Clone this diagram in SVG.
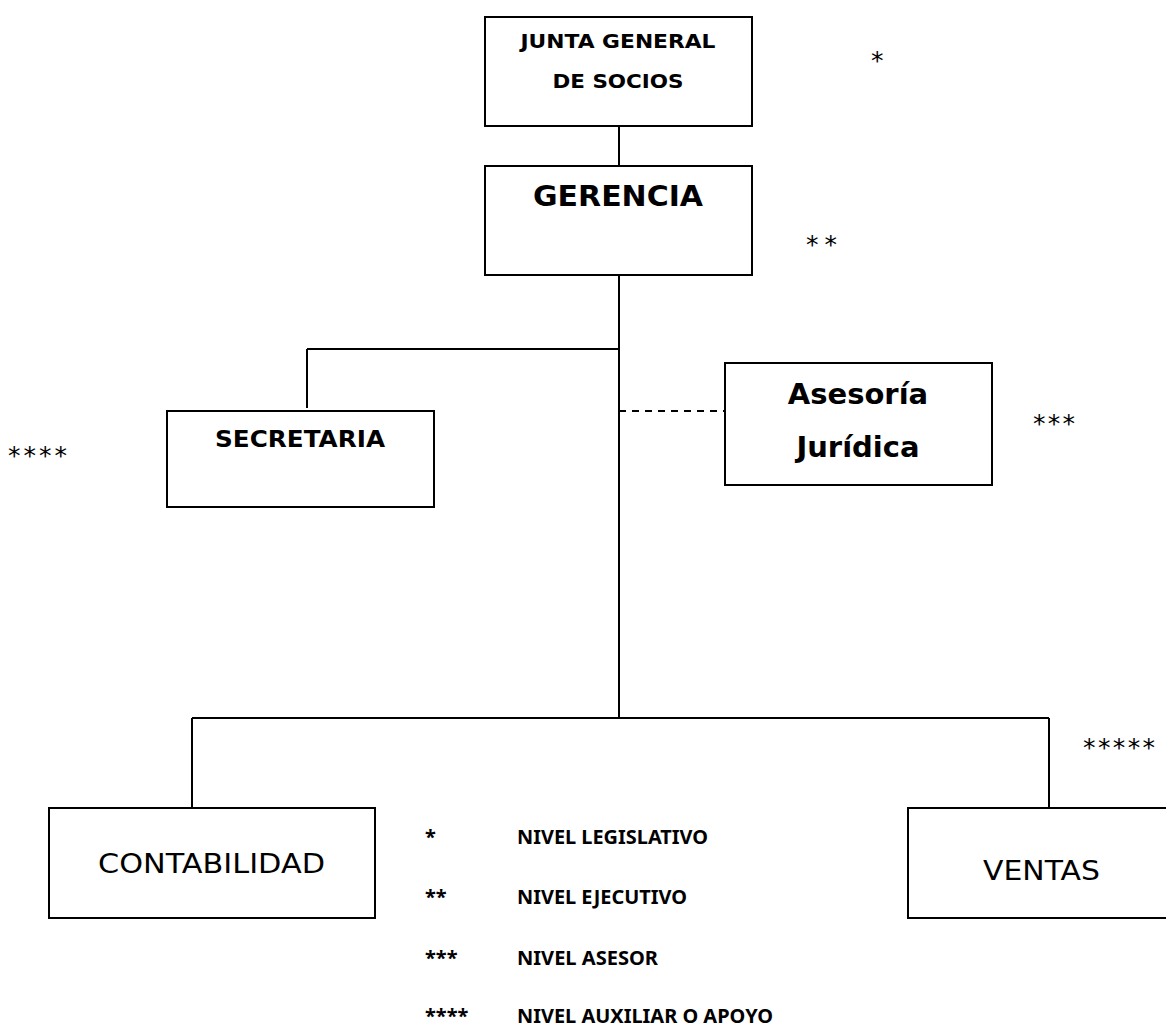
<svg xmlns="http://www.w3.org/2000/svg" width="1166" height="1025" viewBox="0 0 1166 1025">
<style>
.box{fill:#fff;stroke:#000;stroke-width:2}
.ln{stroke:#000;stroke-width:2;fill:none}
.b{font-family:Verdana,"DejaVu Sans",sans-serif;font-weight:bold;fill:#000;text-anchor:middle}
.r{font-family:Verdana,"DejaVu Sans",sans-serif;fill:#000;text-anchor:middle}
.st{font-family:"DejaVu Sans",sans-serif;font-size:25px;fill:#000}
.lg{font-family:"Noto Sans","Open Sans",sans-serif;font-weight:bold;font-size:20px;fill:#000}
</style>
<rect width="1166" height="1025" fill="#fff"/>
<g id="connectors">
<line class="ln" x1="619" y1="126" x2="619" y2="166"/>
<line class="ln" x1="619" y1="275" x2="619" y2="718"/>
<line class="ln" x1="307" y1="349" x2="619" y2="349"/>
<line class="ln" x1="307" y1="349" x2="307" y2="408"/>
<line class="ln" x1="619" y1="411" x2="725" y2="411" stroke-dasharray="7,6"/>
<line class="ln" x1="192" y1="718" x2="1049" y2="718"/>
<line class="ln" x1="192" y1="718" x2="192" y2="808"/>
<line class="ln" x1="1049" y1="718" x2="1049" y2="808"/>
</g>
<g id="junta">
<rect class="box" x="485" y="17" width="267" height="109"/>
<text class="b" x="618" y="48" font-size="19" textLength="195" lengthAdjust="spacingAndGlyphs">JUNTA GENERAL</text>
<text class="b" x="618" y="88" font-size="19" textLength="131" lengthAdjust="spacingAndGlyphs">DE SOCIOS</text>
</g>
<g id="gerencia">
<rect class="box" x="485" y="166" width="267" height="109"/>
<text class="b" x="618" y="206" font-size="28" textLength="170" lengthAdjust="spacingAndGlyphs">GERENCIA</text>
</g>
<g id="secretaria">
<rect class="box" x="167" y="411" width="267" height="96"/>
<text class="b" x="300" y="447" font-size="23" textLength="170" lengthAdjust="spacingAndGlyphs">SECRETARIA</text>
</g>
<g id="asesoria">
<rect class="box" x="725" y="363" width="267" height="122"/>
<text class="b" x="858" y="404" font-size="29">Asesoría</text>
<text class="b" x="858" y="457" font-size="29">Jurídica</text>
</g>
<g id="contabilidad">
<rect class="box" x="49" y="808" width="326" height="110"/>
<text class="r" x="211.5" y="873" font-size="27" textLength="227" lengthAdjust="spacingAndGlyphs">CONTABILIDAD</text>
</g>
<g id="ventas">
<rect class="box" x="908" y="808" width="267" height="110"/>
<text class="r" x="1041.5" y="880" font-size="27" textLength="117" lengthAdjust="spacingAndGlyphs">VENTAS</text>
</g>
<g id="level-marks">
<text class="st" x="871" y="69">*</text>
<text class="st" x="806" y="253" textLength="31" lengthAdjust="spacing">**</text>
<text class="st" x="1033" y="432" textLength="42" lengthAdjust="spacing">***</text>
<text class="st" x="8" y="464" textLength="59" lengthAdjust="spacing">****</text>
<text class="st" x="1083" y="756" textLength="72" lengthAdjust="spacing">*****</text>
</g>
<g id="legend">
<text class="lg" x="425" y="844">*</text>
<text class="lg" x="517" y="844" textLength="191" lengthAdjust="spacingAndGlyphs">NIVEL LEGISLATIVO</text>
<text class="lg" x="425" y="904">**</text>
<text class="lg" x="517" y="904" textLength="170" lengthAdjust="spacingAndGlyphs">NIVEL EJECUTIVO</text>
<text class="lg" x="425" y="965">***</text>
<text class="lg" x="517" y="965" textLength="141" lengthAdjust="spacingAndGlyphs">NIVEL ASESOR</text>
<text class="lg" x="425" y="1023">****</text>
<text class="lg" x="517" y="1023" textLength="256" lengthAdjust="spacingAndGlyphs">NIVEL AUXILIAR O APOYO</text>
</g>
</svg>
